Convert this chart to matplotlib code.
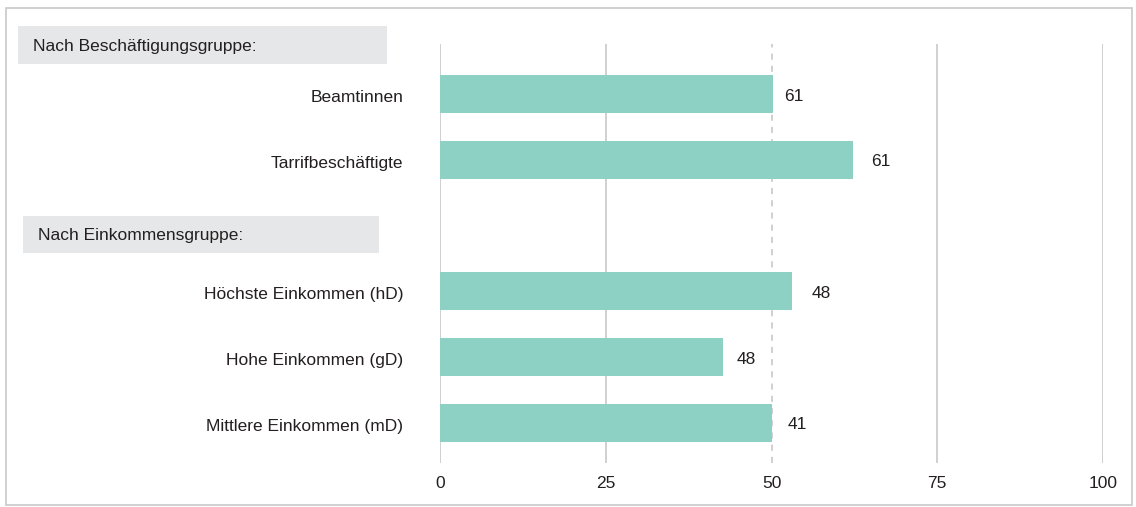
import matplotlib.pyplot as plt
from matplotlib.patches import Rectangle
from matplotlib.transforms import ScaledTranslation

# data
categories = ['Beamtinnen', 'Tarrifbeschäftigte', 'Höchste Einkommen (hD)',
              'Hohe Einkommen (gD)', 'Mittlere Einkommen (mD)']
bar_values = [50.2, 62.3, 53.1, 42.7, 50.1]
value_labels = ['61', '61', '48', '48', '41']
group_headers = ['Nach Beschäftigungsgruppe:', 'Nach Einkommensgruppe:']
x_ticks = [0, 25, 50, 75, 100]

W, H = 1136, 507
BAR = '#8dd1c5'
GRID = '#c4c4c4'
TEXT = '#231f20'
HEADER_BG = '#e6e7e8'

plt.rcParams['font.family'] = ['Liberation Sans', 'DejaVu Sans']

fig = plt.figure(figsize=(W / 100, H / 100), dpi=100)


def fx(px):
    return px / W


def fy(py):
    return 1 - py / H


# outer frame
fig.patches.append(Rectangle((fx(6), fy(505)), fx(1132) - fx(6), fy(8) - fy(505),
                             transform=fig.transFigure, fill=False,
                             edgecolor='#c8c8c8', linewidth=1.2))

# axes area: x 0..100 -> 440..1103 px, gridlines 44..463 px
ax = fig.add_axes([fx(440), fy(463), fx(1103) - fx(440), fy(44) - fy(463)])

# slots: two bars, header gap, three bars
slots = [0, 1, 3, 4, 5]
ax.barh(slots, bar_values, height=0.58, color=BAR, zorder=2)

ax.set_xlim(0, 100)
ax.set_ylim(5.61, -0.76)

for t in x_ticks:
    ls = (0, (4, 4)) if t == 50 else '-'
    ax.axvline(t, color=GRID, linewidth=1.1, linestyle=ls, zorder=1)

for s in ax.spines.values():
    s.set_visible(False)
ax.set_xticks(x_ticks)
ax.set_xticklabels([str(t) for t in x_ticks])
ax.tick_params(axis='x', length=0, pad=9, labelsize=12.5, labelcolor=TEXT)
ax.set_yticks(slots)
ax.set_yticklabels(categories)
ax.tick_params(axis='y', length=0, pad=26.5, labelsize=12.5, labelcolor=TEXT)
shift = ScaledTranslation(0, -2 / 100, fig.dpi_scale_trans)
for lab in ax.get_yticklabels():
    lab.set_transform(lab.get_transform() + shift)

pads = [11, 18, 20, 14, 15]
for s, v, lab, p in zip(slots, bar_values, value_labels, pads):
    ax.annotate(lab, (v, s), xytext=(p * 0.72, -1.5), textcoords='offset points',
                ha='left', va='center', fontsize=12.5, color=TEXT)

# group header boxes
boxes = [(18, 26, 387, 64, 33), (23, 216, 379, 253, 38)]
for text, (x0, y0, x1, y1, tx) in zip(group_headers, boxes):
    fig.patches.append(Rectangle((fx(x0), fy(y1)), fx(x1) - fx(x0), fy(y0) - fy(y1),
                                 transform=fig.transFigure, facecolor=HEADER_BG,
                                 edgecolor='none'))
    fig.text(fx(tx), fy((y0 + y1) / 2 + 1), text, ha='left', va='center',
             fontsize=12.5, color=TEXT)

fig.savefig('out.png', dpi=100)
